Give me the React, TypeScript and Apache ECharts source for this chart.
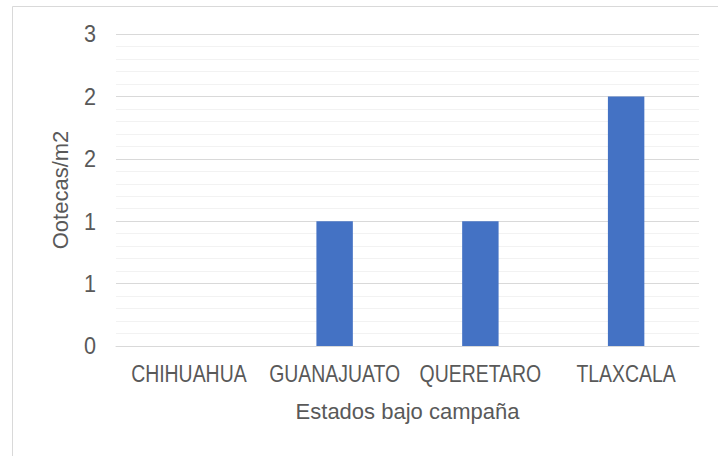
import React, { useEffect, useRef } from "react";
import * as echarts from "echarts";

const categories = ["CHIHUAHUA", "GUANAJUATO", "QUERETARO", "TLAXCALA"];
const values = [0, 1, 1, 2];
const yTickLabels = ["0", "1", "1", "2", "2", "3"];
const yMin = 0;
const yMax = 2.5;
const yInterval = 0.5;
const xAxisTitle = "Estados bajo campaña";
const yAxisTitle = "Ootecas/m2";

const FONT = "'Liberation Sans', Arial, sans-serif";
const TEXT = "#595959";

export default function App() {
  const ref = useRef<HTMLDivElement>(null);
  useEffect(() => {
    if (!ref.current) return;
    const chart = echarts.init(ref.current, undefined, { renderer: "svg" });
    chart.setOption({
      animation: false,
      backgroundColor: "#ffffff",
      textStyle: { fontFamily: FONT },
      grid: { left: 116, right: 19, top: 34, bottom: 110 },
      xAxis: {
        type: "category",
        data: categories,
        axisLine: { show: true, lineStyle: { color: "#d9d9d9", width: 1 } },
        axisTick: { show: false },
        axisLabel: { show: false },
        name: xAxisTitle,
        nameLocation: "middle",
        nameGap: 54,
        nameTextStyle: { color: TEXT, fontSize: 22, fontFamily: FONT },
      },
      yAxis: {
        type: "value",
        min: yMin,
        max: yMax,
        interval: yInterval,
        axisLine: { show: false },
        axisTick: { show: false },
        axisLabel: { show: false },
        splitLine: { show: true, lineStyle: { color: "#d9d9d9", width: 1 } },
        minorTick: { show: false, splitNumber: 5 },
        minorSplitLine: { show: true, lineStyle: { color: "#f2f2f2", width: 1 } },
        name: yAxisTitle,
        nameLocation: "middle",
        nameGap: 45,
        nameRotate: 90,
        nameTextStyle: { color: TEXT, fontSize: 22, fontFamily: FONT },
      },
      series: [
        {
          type: "bar",
          data: values,
          barWidth: "25%",
          itemStyle: { color: "#4472c4" },
        },
      ],
    });

    const texts: any[] = [];
    categories.forEach((c) => {
      const x = chart.convertToPixel({ xAxisIndex: 0 }, c) as number;
      const y0 = chart.convertToPixel({ yAxisIndex: 0 }, yMin) as number;
      texts.push({
        type: "text",
        x,
        y: y0 + 28,
        scaleX: 0.81,
        silent: true,
        style: {
          text: c,
          fill: TEXT,
          font: `24px ${FONT}`,
          align: "center",
          verticalAlign: "middle",
        },
      });
    });
    yTickLabels.forEach((t, i) => {
      const v = yMin + i * yInterval;
      const y = chart.convertToPixel({ yAxisIndex: 0 }, v) as number;
      texts.push({
        type: "text",
        x: 96,
        y: y,
        scaleX: 0.9,
        silent: true,
        style: {
          text: t,
          fill: TEXT,
          font: `24px ${FONT}`,
          align: "right",
          verticalAlign: "middle",
        },
      });
    });

    chart.setOption({
      graphic: [
        {
          type: "rect",
          shape: { x: 12.5, y: 6.5, width: 800, height: 500 },
          style: { fill: "none", stroke: "#d9d9d9", lineWidth: 1 },
          silent: true,
        },
        ...texts,
      ],
    });
    return () => chart.dispose();
  }, []);
  return (
    <div
      ref={ref}
      style={{ position: "fixed", left: 0, top: 0, width: 718, height: 456 }}
    />
  );
}
